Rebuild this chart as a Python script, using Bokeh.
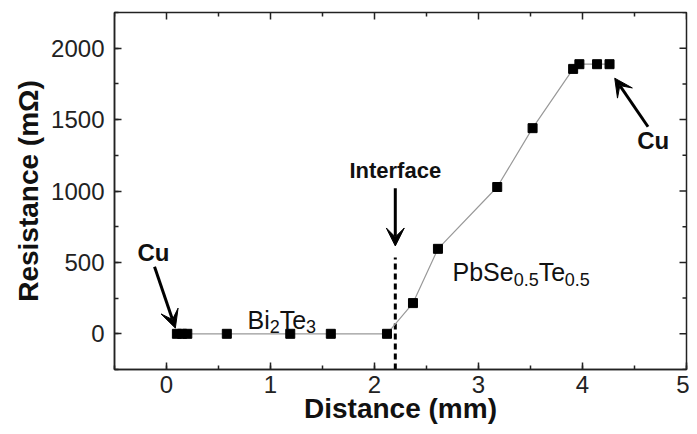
import math
from bokeh.plotting import figure
from bokeh.models import (Range1d, SingleIntervalTicker, Label, Arrow, VeeHead)
from bokeh.embed import file_html
from bokeh.resources import INLINE

# ---- data ----
distance_mm = [0.10, 0.15, 0.20, 0.58, 1.19, 1.58, 2.12, 2.37, 2.61, 3.18, 3.52, 3.91, 3.97, 4.14, 4.26]
resistance_mohm = [0, 0, 0, 0, 0, 0, 0, 215, 595, 1028, 1440, 1855, 1888, 1888, 1888]
interface_x = 2.2
interface_top = 535
x_ticks_interval = 1
y_ticks_interval = 500
x_major_ticks = [0, 1, 2, 3, 4, 5]
x_minor_ticks = [-0.5, 0.5, 1.5, 2.5, 3.5, 4.5]
y_major_ticks = [0, 500, 1000, 1500, 2000]
y_minor_ticks = [-250, 250, 750, 1250, 1750, 2250]
X_MIN, X_MAX, Y_MIN, Y_MAX = -0.5, 5, -250, 2250

FONT = "Liberation Sans"

p = figure(width=689, height=426, output_backend="svg", toolbar_location=None,
           x_range=Range1d(X_MIN, X_MAX), y_range=Range1d(Y_MIN, Y_MAX),
           min_border_left=114, min_border_right=3, min_border_top=12, min_border_bottom=54,
           background_fill_color="white", border_fill_color="white")
p.grid.visible = False
p.outline_line_color = "#222222"
p.outline_line_width = 1.5

p.xaxis.ticker = SingleIntervalTicker(interval=x_ticks_interval, num_minor_ticks=2)
p.yaxis.ticker = SingleIntervalTicker(interval=y_ticks_interval, num_minor_ticks=2)

for ax in (p.xaxis[0], p.yaxis[0]):
    ax.axis_line_color = "#222222"
    ax.axis_line_width = 1.5
    ax.major_tick_in = 7
    ax.major_tick_out = 0
    ax.minor_tick_in = 4
    ax.minor_tick_out = 0
    ax.major_tick_line_color = "#222222"
    ax.minor_tick_line_color = "#222222"
    ax.major_tick_line_width = 1.5
    ax.minor_tick_line_width = 1.5
    ax.major_label_text_font = FONT
    ax.major_label_text_font_size = "24px"
    ax.major_label_text_color = "#222222"
    ax.axis_label_text_font = FONT
    ax.axis_label_text_font_style = "bold"
    ax.axis_label_text_font_size = "28px"
    ax.axis_label_text_color = "#111111"

p.xaxis.axis_label = "Distance (mm)"
p.yaxis.axis_label = "Resistance (m\u03a9)"
p.xaxis.major_label_standoff = 6
p.xaxis.axis_label_standoff = -3
p.yaxis.major_label_standoff = 10
p.yaxis.axis_label_standoff = 4

# mirrored inward ticks on top and right edges (clipped to the frame -> half shows)
p.scatter(x_major_ticks, [Y_MAX] * len(x_major_ticks), marker="dash", size=14,
          angle=math.pi / 2, line_color="#222222", line_width=1.5)
p.scatter(x_minor_ticks, [Y_MAX] * len(x_minor_ticks), marker="dash", size=8,
          angle=math.pi / 2, line_color="#222222", line_width=1.5)
p.scatter([X_MAX] * len(y_major_ticks), y_major_ticks, marker="dash", size=14,
          line_color="#222222", line_width=1.5)
p.scatter([X_MAX] * len(y_minor_ticks), y_minor_ticks, marker="dash", size=8,
          line_color="#222222", line_width=1.5)

# interface dashed line
p.line([interface_x, interface_x], [Y_MIN, interface_top], line_color="black",
       line_width=3, line_dash="6 4")

# data
p.line(distance_mm, resistance_mohm, line_color="#999999", line_width=1.2)
p.scatter(distance_mm, resistance_mohm, marker="square", size=9,
          fill_color="black", line_color="black")

# arrows
def arrow(x0, y0, x1, y1):
    p.add_layout(Arrow(end=VeeHead(size=18, fill_color="black", line_color="black"),
                       x_start=x0, y_start=y0, x_end=x1, y_end=y1,
                       line_color="black", line_width=3))

arrow(-0.115, 470, 0.085, 40)
arrow(interface_x, 1020, interface_x, 615)
arrow(4.63, 1450, 4.31, 1790)

def label(x, y, text, size, bold=True):
    p.add_layout(Label(x=x, y=y, text=text, text_font=FONT, text_font_size=size,
                       text_font_style="bold" if bold else "normal",
                       text_align="center", text_baseline="middle", text_color="#111111"))

label(-0.125, 569, "Cu", "24px")
label(4.68, 1354, "Cu", "24px")
label(interface_x, 1146, "Interface", "22px")

# subscript-composed labels
WIDTHS = {"B": .667, "i": .222, "T": .611, "e": .556, "P": .667, "b": .556, "S": .667,
          "0": .556, "5": .556, ".": .278, "2": .556, "3": .556}

def compound(x, y, parts, main=25, sub=18, drop_px=7):
    off = 0.0
    for txt, is_sub, kern in parts:
        fs = sub if is_sub else main
        off += kern
        yy = y - (drop_px * (Y_MAX - Y_MIN) / 360 if is_sub else 0)
        p.add_layout(Label(x=x, y=yy, x_offset=off, text=txt, text_font=FONT,
                           text_font_size=f"{fs}px", text_align="left",
                           text_baseline="alphabetic", text_color="#111111"))
        off += sum(WIDTHS.get(c, .556) for c in txt) * fs

compound(0.78, 97, [("Bi", False, 0), ("2", True, 0), ("Te", False, 0), ("3", True, -3)])
compound(2.75, 430, [("PbSe", False, 0), ("0.5", True, 0), ("Te", False, 0), ("0.5", True, -3)])

open("out.html", "w").write(file_html(p, INLINE))
